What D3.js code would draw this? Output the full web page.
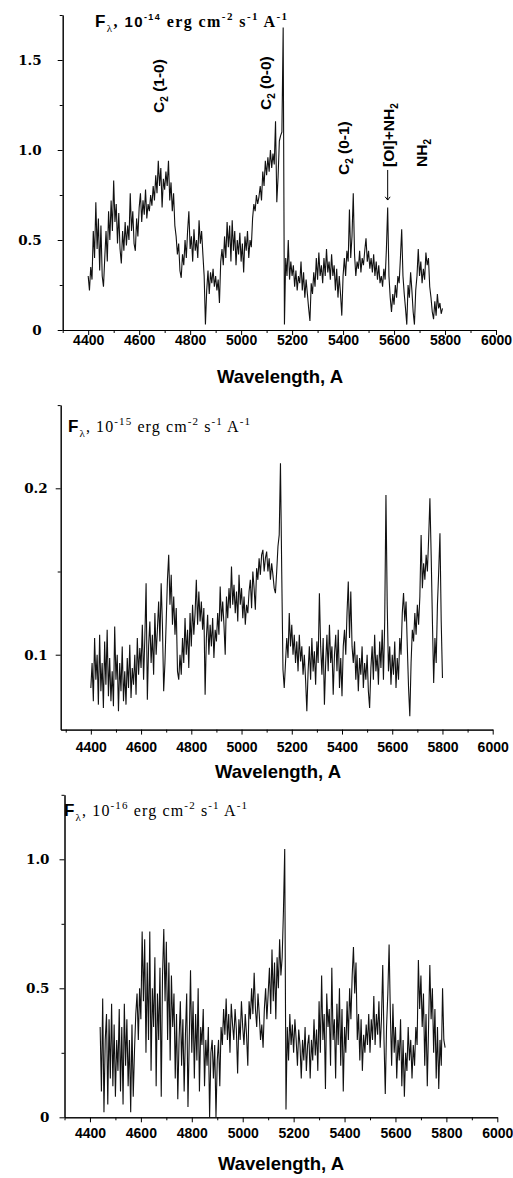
<!DOCTYPE html>
<html>
<head>
<meta charset="utf-8">
<script src="https://cdn.jsdelivr.net/npm/d3@7"></script>
<style>
  body { margin: 0; background: #fff; }
  svg { display: block; }
</style>
</head>
<body>
<div id="chart"></div>
<script>
// Flux, one sample every 5 A
const step = 5;

// top panel, 10^-14 units, 4400..5790 A
const start1 = 4400;
const flux1 = [
  0.30, 0.22, 0.35, 0.28, 0.55, 0.40, 0.71, 0.45, 0.62, 0.33, 0.58, 0.30, 0.24, 0.40, 0.55, 0.38, 0.66, 0.50, 0.72, 0.55,
  0.83, 0.60, 0.70, 0.48, 0.65, 0.45, 0.37, 0.55, 0.44, 0.60, 0.47, 0.58, 0.50, 0.76, 0.55, 0.66, 0.48, 0.44, 0.62, 0.52,
  0.68, 0.76, 0.60, 0.72, 0.64, 0.78, 0.62, 0.70, 0.66, 0.75, 0.69, 0.80, 0.72, 0.86, 0.76, 0.94, 0.80, 0.90, 0.68, 0.84,
  0.78, 0.88, 0.80, 0.94, 0.72, 0.82, 0.66, 0.76, 0.58, 0.52, 0.42, 0.48, 0.33, 0.29, 0.42, 0.36, 0.50, 0.40, 0.55, 0.66,
  0.45, 0.52, 0.38, 0.56, 0.44, 0.50, 0.40, 0.61, 0.48, 0.55, 0.42, 0.30, 0.03, 0.22, 0.33, 0.20, 0.32, 0.26, 0.34, 0.24,
  0.30, 0.22, 0.28, 0.15, 0.38, 0.45, 0.36, 0.52, 0.40, 0.60, 0.46, 0.58, 0.38, 0.61, 0.44, 0.55, 0.36, 0.50, 0.42, 0.54,
  0.38, 0.48, 0.32, 0.52, 0.44, 0.55, 0.40, 0.50, 0.46, 0.62, 0.70, 0.66, 0.75, 0.70, 0.74, 0.80, 0.72, 0.88, 0.80, 0.94,
  0.86, 0.96, 0.88, 1.00, 0.90, 0.98, 0.92, 1.16, 0.71, 0.85, 1.05, 1.08, 1.10, 1.68, 0.03, 0.40, 0.30, 0.50, 0.28, 0.38,
  0.30, 0.36, 0.24, 0.33, 0.22, 0.30, 0.26, 0.38, 0.22, 0.32, 0.18, 0.28, 0.20, 0.12, 0.05, 0.26, 0.20, 0.32, 0.24, 0.40,
  0.28, 0.43, 0.30, 0.36, 0.26, 0.40, 0.30, 0.45, 0.32, 0.38, 0.28, 0.42, 0.30, 0.36, 0.22, 0.34, 0.18, 0.30, 0.20, 0.08,
  0.30, 0.40, 0.30, 0.44, 0.38, 0.67, 0.40, 0.52, 0.76, 0.42, 0.30, 0.38, 0.34, 0.44, 0.32, 0.40, 0.36, 0.44, 0.51, 0.38,
  0.44, 0.34, 0.40, 0.32, 0.42, 0.30, 0.38, 0.28, 0.36, 0.26, 0.30, 0.24, 0.34, 0.28, 0.45, 0.68, 0.30, 0.18, 0.10, 0.20,
  0.14, 0.25, 0.18, 0.30, 0.26, 0.40, 0.56, 0.30, 0.20, 0.12, 0.03, 0.25, 0.18, 0.32, 0.22, 0.10, 0.03, 0.22, 0.30, 0.45,
  0.30, 0.38, 0.26, 0.34, 0.28, 0.43, 0.36, 0.40, 0.24, 0.18, 0.10, 0.06, 0.16, 0.08, 0.20, 0.12, 0.15, 0.09, 0.12
];

// middle panel, 10^-15 units, 4400..5800 A
const start2 = 4400;
const flux2 = [
  0.080, 0.095, 0.072, 0.110, 0.085, 0.100, 0.070, 0.112, 0.078, 0.095, 0.068, 0.108, 0.082, 0.115, 0.075, 0.098, 0.072, 0.090, 0.069, 0.117,
  0.085, 0.100, 0.066, 0.095, 0.078, 0.105, 0.072, 0.090, 0.070, 0.098, 0.080, 0.106, 0.074, 0.092, 0.082, 0.100, 0.076, 0.110, 0.088, 0.104,
  0.092, 0.118, 0.085, 0.110, 0.143, 0.073, 0.105, 0.120, 0.095, 0.112, 0.088, 0.125, 0.100, 0.115, 0.132, 0.108, 0.143, 0.118, 0.078, 0.095,
  0.120, 0.145, 0.160, 0.130, 0.148, 0.118, 0.135, 0.112, 0.128, 0.090, 0.085, 0.100, 0.088, 0.110, 0.095, 0.122, 0.100, 0.115, 0.092, 0.125,
  0.105, 0.130, 0.112, 0.125, 0.145, 0.118, 0.138, 0.120, 0.132, 0.115, 0.128, 0.076, 0.110, 0.124, 0.100, 0.118, 0.105, 0.122, 0.098, 0.115,
  0.108, 0.125, 0.112, 0.141, 0.120, 0.132, 0.118, 0.100, 0.135, 0.122, 0.140, 0.128, 0.153, 0.130, 0.142, 0.125, 0.138, 0.120, 0.148, 0.130,
  0.140, 0.122, 0.135, 0.118, 0.130, 0.125, 0.138, 0.145, 0.128, 0.150, 0.140, 0.127, 0.152, 0.145, 0.158, 0.148, 0.160, 0.163, 0.150, 0.158,
  0.162, 0.150, 0.158, 0.145, 0.155, 0.148, 0.140, 0.137, 0.150, 0.165, 0.172, 0.215, 0.150, 0.091, 0.080, 0.095, 0.110, 0.098, 0.125, 0.105,
  0.118, 0.100, 0.112, 0.095, 0.108, 0.090, 0.112, 0.096, 0.105, 0.088, 0.100, 0.085, 0.066, 0.090, 0.105, 0.085, 0.110, 0.090, 0.102, 0.082,
  0.108, 0.095, 0.137, 0.105, 0.088, 0.110, 0.070, 0.095, 0.112, 0.090, 0.118, 0.095, 0.105, 0.076, 0.100, 0.112, 0.090, 0.115, 0.080, 0.098,
  0.075, 0.105, 0.115, 0.100, 0.125, 0.144, 0.110, 0.138, 0.105, 0.095, 0.108, 0.085, 0.100, 0.078, 0.098, 0.088, 0.105, 0.080, 0.095, 0.085,
  0.100, 0.078, 0.068, 0.092, 0.105, 0.085, 0.112, 0.090, 0.100, 0.082, 0.108, 0.092, 0.115, 0.085, 0.120, 0.196, 0.130, 0.090, 0.105, 0.082,
  0.100, 0.088, 0.108, 0.080, 0.098, 0.085, 0.110, 0.100, 0.125, 0.137, 0.120, 0.132, 0.105, 0.080, 0.063, 0.095, 0.115, 0.108, 0.125, 0.112,
  0.130, 0.118, 0.135, 0.172, 0.140, 0.155, 0.145, 0.160, 0.150, 0.170, 0.194, 0.160, 0.120, 0.083, 0.110, 0.095, 0.130, 0.150, 0.173, 0.120, 0.086
];

// bottom panel, 10^-16 units, 4440..5795 A
const start3 = 4440;
const flux3 = [
  0.35, 0.10, 0.46, 0.02, 0.30, 0.40, 0.05, 0.38, 0.15, 0.44, 0.12, 0.36,
  0.08, 0.30, 0.18, 0.42, 0.10, 0.35, 0.05, 0.44, 0.20, 0.38, 0.12, 0.30, 0.02, 0.36, 0.08, 0.26, 0.40, 0.48, 0.30, 0.50,
  0.38, 0.72, 0.45, 0.69, 0.25, 0.60, 0.30, 0.72, 0.18, 0.50, 0.35, 0.62, 0.12, 0.48, 0.30, 0.58, 0.08, 0.55, 0.73, 0.45,
  0.68, 0.30, 0.60, 0.22, 0.55, 0.35, 0.48, 0.15, 0.40, 0.07, 0.30, 0.45, 0.20, 0.38, 0.10, 0.32, 0.48, 0.04, 0.30, 0.57,
  0.25, 0.45, 0.15, 0.40, 0.22, 0.50, 0.10, 0.35, 0.28, 0.42, 0.12, 0.30, 0.20, 0.35, 0.00, 0.25, 0.30, 0.15, 0.28, 0.00,
  0.22, 0.30, 0.12, 0.35, 0.28, 0.42, 0.32, 0.46, 0.30, 0.40, 0.25, 0.44, 0.36, 0.30, 0.42, 0.34, 0.17, 0.38, 0.30, 0.45,
  0.35, 0.28, 0.40, 0.32, 0.20, 0.45, 0.38, 0.50, 0.40, 0.56, 0.42, 0.35, 0.48, 0.40, 0.30, 0.36, 0.27, 0.42, 0.50, 0.38,
  0.48, 0.58, 0.40, 0.65, 0.45, 0.60, 0.38, 0.62, 0.50, 0.69, 0.55, 0.62, 0.80, 1.04, 0.03, 0.35, 0.22, 0.40, 0.28, 0.36,
  0.25, 0.38, 0.30, 0.20, 0.34, 0.28, 0.15, 0.30, 0.22, 0.35, 0.18, 0.28, 0.32, 0.15, 0.30, 0.22, 0.38, 0.24, 0.34, 0.18,
  0.45, 0.25, 0.55, 0.30, 0.40, 0.11, 0.48, 0.35, 0.42, 0.20, 0.58, 0.30, 0.38, 0.15, 0.44, 0.28, 0.50, 0.20, 0.42, 0.10,
  0.35, 0.25, 0.45, 0.30, 0.50, 0.38, 0.55, 0.66, 0.48, 0.60, 0.30, 0.40, 0.22, 0.38, 0.18, 0.32, 0.25, 0.36, 0.28, 0.40,
  0.25, 0.38, 0.30, 0.47, 0.28, 0.40, 0.32, 0.45, 0.27, 0.38, 0.59, 0.30, 0.09, 0.35, 0.48, 0.67, 0.40, 0.20, 0.44, 0.25,
  0.35, 0.15, 0.30, 0.22, 0.38, 0.12, 0.30, 0.08, 0.25, 0.18, 0.35, 0.22, 0.30, 0.15, 0.28, 0.20, 0.35, 0.28, 0.61, 0.42,
  0.55, 0.35, 0.48, 0.20, 0.40, 0.12, 0.35, 0.59, 0.38, 0.50, 0.25, 0.42, 0.15, 0.35, 0.11, 0.30, 0.20, 0.50, 0.30, 0.27
];

const xTicks = [4400, 4600, 4800, 5000, 5200, 5400, 5600, 5800, 6000];
const xMinor = [4300, 4500, 4700, 4900, 5100, 5300, 5500, 5700, 5900];
const yTicks1 = [0, 0.5, 1.0, 1.5];
const yMinor1 = [0.25, 0.75, 1.25, 1.75];
const yTicks2 = [0.1, 0.2];
const yMinor2 = [0.15, 0.25];
const yTicks3 = [0, 0.5, 1.0];
const yMinor3 = [0.25, 0.75, 1.25];

// band labels on the top panel: name, subscript, tail, anchor wavelength and flux
const bandNames = ["C", "C", "C", "[OI]+NH", "NH"];
const bandSubs = ["2", "2", "2", "2", "2"];
const bandTails = [" (1-0)", " (0-0)", " (0-1)", "", ""];
const bandLambda = [4697, 5117, 5424, 5600, 5730];
const bandFlux = [1.206, 1.222, 0.861, 0.906, 0.906];

const width = 513, height = 1178;
const serif = "'Liberation Serif', 'Times New Roman', serif";
const sans = "'Liberation Sans', Arial, sans-serif";

const svg = d3.select("#chart").append("svg")
  .attr("width", width)
  .attr("height", height);

const panels = [
  {
    flux: flux1, start: start1,
    xDomain: [4300, 6000], xRange: [62.7, 496],
    yDomain: [0, 1.75], yRange: [330, 15],
    yTicks: yTicks1, yMinor: yMinor1, yPad: 16, xLabelDy: 15,
    labelY: 383, labelX: 280,
    title: { x: 95, y: 27, exp: "-14", bold: true, len: 192 }
  },
  {
    flux: flux2, start: start2,
    xDomain: [4280, 6000], xRange: [60.7, 492.7],
    yDomain: [0.055, 0.25], yRange: [729.6, 405.1],
    yTicks: yTicks2, yMinor: yMinor2, yPad: 8, xLabelDy: 22.5,
    labelY: 778, labelX: 278,
    title: { x: 68, y: 432, exp: "-15", bold: false, len: 182 }
  },
  {
    flux: flux3, start: start3,
    xDomain: [4300, 6000], xRange: [64.5, 497.3],
    yDomain: [0, 1.25], yRange: [1117.3, 794.8],
    yTicks: yTicks3, yMinor: yMinor3, yPad: 10, xLabelDy: 21,
    labelY: 1170, labelX: 281,
    title: { x: 64, y: 816, exp: "-16", bold: false, len: 183 }
  }
];

function drawTitle(g, t) {
  const w = t.bold ? "bold" : "normal";
  const parts = [
    { s: "F", f: sans, w: "bold", z: 17, b: 0 },
    { s: "λ", f: serif, w: "normal", z: 11, b: 5 },
    { s: ", ", f: serif, w: w, z: 16, b: 0 },
    { s: "10", f: t.bold ? sans : serif, w: w, z: t.bold ? 15 : 16, b: 0 },
    { s: t.exp, f: t.bold ? sans : serif, w: w, z: t.bold ? 9 : 11, b: -7 },
    { s: " erg cm", f: serif, w: w, z: 16, b: 0 },
    { s: "-2", f: serif, w: w, z: 11, b: -7 },
    { s: " s", f: serif, w: w, z: 16, b: 0 },
    { s: "-1", f: serif, w: w, z: 11, b: -7 },
    { s: " A", f: serif, w: w, z: 16, b: 0 },
    { s: "-1", f: serif, w: w, z: 11, b: -7 }
  ];
  const text = g.append("text")
    .attr("x", t.x)
    .attr("y", t.y)
    .attr("textLength", t.len)
    .attr("lengthAdjust", "spacing")
    .attr("fill", "#000")
    .style("white-space", "pre");
  let prev = 0;
  parts.forEach(p => {
    text.append("tspan")
      .attr("dy", p.b - prev)
      .style("font-family", p.f)
      .style("font-weight", p.w)
      .style("font-size", p.z + "px")
      .text(p.s);
    prev = p.b;
  });
}

panels.forEach((p, i) => {
  const g = svg.append("g");
  const x = d3.scaleLinear().domain(p.xDomain).range(p.xRange);
  const y = d3.scaleLinear().domain(p.yDomain).range(p.yRange);
  const xAxisY = p.yRange[0];
  const yAxisX = p.xRange[0];

  // minor ticks first, then the labelled ones
  g.append("g")
    .attr("transform", `translate(0,${xAxisY})`)
    .call(d3.axisBottom(x).tickValues(xMinor).tickSize(3).tickSizeOuter(0).tickFormat(""));
  const xAxis = g.append("g")
    .attr("transform", `translate(0,${xAxisY})`)
    .call(d3.axisBottom(x).tickValues(xTicks).tickSize(5).tickSizeOuter(0).tickFormat(d3.format("d")));
  xAxis.selectAll("text")
    .attr("y", p.xLabelDy)
    .attr("dy", 0)
    .style("font-family", sans)
    .style("font-weight", "bold")
    .style("font-size", "14px")
    .attr("fill", "#000");

  g.append("g")
    .attr("transform", `translate(${yAxisX},0)`)
    .call(d3.axisLeft(y).tickValues(p.yMinor).tickSize(3).tickSizeOuter(0).tickFormat(""));
  const yAxis = g.append("g")
    .attr("transform", `translate(${yAxisX},0)`)
    .call(d3.axisLeft(y).tickValues(p.yTicks).tickSize(5).tickSizeOuter(0).tickPadding(p.yPad)
      .tickFormat(d => d === 0 ? "0" : d3.format(".1f")(d)));
  yAxis.selectAll("text")
    .style("font-family", "'DejaVu Serif', serif")
    .style("font-weight", "bold")
    .style("font-size", "13.5px")
    .attr("fill", "#000");

  g.selectAll(".domain, .tick line")
    .attr("stroke", "#000")
    .attr("stroke-width", 1);

  // spectrum
  const points = p.flux.map((v, j) => [p.start + j * step, v]);
  g.append("path")
    .datum(points)
    .attr("fill", "none")
    .attr("stroke", "#111")
    .attr("stroke-width", 1.1)
    .attr("stroke-linejoin", "bevel")
    .attr("d", d3.line().x(d => x(d[0])).y(d => y(d[1])));

  g.append("text")
    .attr("x", p.labelX)
    .attr("y", p.labelY)
    .attr("text-anchor", "middle")
    .style("font-family", sans)
    .style("font-weight", "bold")
    .style("font-size", "18.5px")
    .text("Wavelength, A");

  drawTitle(g, p.title);

  if (i === 0) {
    bandNames.forEach((name, k) => {
      const t = g.append("text")
        .attr("transform", `translate(${x(bandLambda[k])},${y(bandFlux[k])}) rotate(-90)`)
        .style("font-family", sans)
        .style("font-weight", "bold")
        .style("font-size", "15.5px")
        .style("white-space", "pre");
      t.append("tspan").text(name);
      t.append("tspan").attr("dy", 4).style("font-size", "10px").text(bandSubs[k]);
      if (bandTails[k]) t.append("tspan").attr("dy", -4).text(bandTails[k]);
    });

    // arrow pointing at the [OI] 5577 line
    const ax = x(5575);
    g.append("line")
      .attr("x1", ax).attr("x2", ax)
      .attr("y1", y(0.889)).attr("y2", y(0.722))
      .attr("stroke", "#000")
      .attr("stroke-width", 1);
    g.append("path")
      .attr("d", `M${ax - 2.5},${y(0.74)} L${ax},${y(0.722)} L${ax + 2.5},${y(0.74)}`)
      .attr("fill", "none")
      .attr("stroke", "#000")
      .attr("stroke-width", 1);
  }
});
</script>
</body>
</html>
